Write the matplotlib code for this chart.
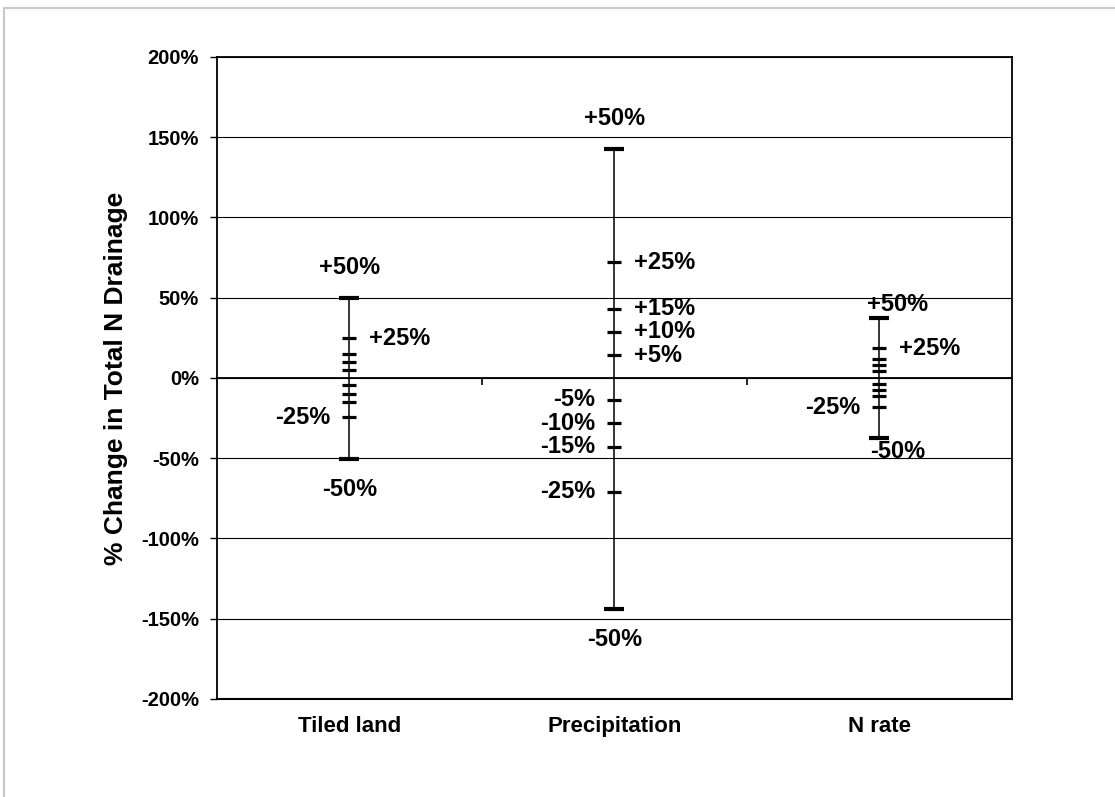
import matplotlib
matplotlib.use("Agg")
import matplotlib.pyplot as plt
from matplotlib.patches import Rectangle
from matplotlib.transforms import ScaledTranslation

plt.rcParams['font.family'] = ['Liberation Sans', 'DejaVu Sans']
plt.rcParams['font.weight'] = 'bold'

# factors on the x axis
categories = ["Tiled land", "Precipitation", "N rate"]

# change applied to each input (%)
input_changes = [-50, -25, -15, -10, -5, 5, 10, 15, 25, 50]

# resulting change in total N drainage (%)
tiled_land = [-50.5, -24.5, -14.8, -9.8, -4.6, 5.2, 10.2, 15.2, 24.7, 50.0]
precipitation = [-143.7, -70.8, -42.8, -28.2, -13.7, 14.1, 28.8, 43.0, 72.1, 142.7]
n_rate = [-37.2, -18.3, -11.0, -7.5, -3.7, 4.5, 8.1, 11.7, 18.5, 37.2]
series = [tiled_land, precipitation, n_rate]

# which input changes get a text label, per factor
labelled = [
    [-50, -25, 25, 50],
    [-50, -25, -15, -10, -5, 5, 10, 15, 25, 50],
    [-50, -25, 25, 50],
]

y_ticks = [-200, -150, -100, -50, 0, 50, 100, 150, 200]

fig = plt.figure(figsize=(11.15, 7.97), dpi=100)
ax = fig.add_axes([0.1946, 0.1230, 0.7130, 0.8055])

# light grey chart frame
fig.patches.append(Rectangle((4 / 1115, -0.1), 1.2, 1 - 8 / 797 + 0.1,
                             transform=fig.transFigure, fill=False,
                             edgecolor='#c8c8c8', linewidth=1.5))

for y in y_ticks:
    ax.axhline(y, color='black', linewidth=0.8, zorder=1)

for i, vals in enumerate(series):
    x = i + 1
    ax.plot([x, x], [min(vals), max(vals)], color='black', linewidth=1.1, zorder=2)
    for chg, v in zip(input_changes, vals):
        big = abs(chg) == 50
        ax.plot([x], [v], marker='_', color='black',
                markersize=14.5 if big else 10.5,
                markeredgewidth=3.0 if big else 2.3, zorder=3)

        if chg not in labelled[i]:
            continue
        txt = ("+%d%%" % chg) if chg > 0 else ("%d%%" % chg)
        if i == 2 and big:
            # N rate ends: labels sit tight on the markers
            off = (13, 10 if chg > 0 else -10)
            ha = 'center'
        elif big:
            off = (0, 22 if chg > 0 else -22)
            ha = 'center'
        elif chg > 0:
            off = (14, 0)
            ha = 'left'
        else:
            off = (-14, 0)
            ha = 'right'
        ax.annotate(txt, (x, v), xytext=off, textcoords='offset points',
                    ha=ha, va='center', fontsize=17, fontweight='bold')

ax.set_xlim(0.5, 3.5)
ax.set_ylim(-200, 200)
ax.set_yticks(y_ticks)
ax.set_yticklabels(["%d%%" % t for t in y_ticks], fontsize=14.5, fontweight='bold')
ax.tick_params(axis='y', direction='out', length=5, width=1, pad=8)

# x axis crosses at zero, ticks between categories
ax.set_xticks([1.5, 2.5])
ax.set_xticklabels([])
ax.spines['bottom'].set_position(('data', 0))
ax.tick_params(axis='x', direction='out', length=5, width=1.2)
ax.plot([0.5, 3.5], [-200, -200], color='black', linewidth=1.5, clip_on=False, zorder=4)

for s in ax.spines.values():
    s.set_linewidth(1.3)

# category labels below the plot area
below = ax.transData + ScaledTranslation(0, -12 / 72, fig.dpi_scale_trans)
for i, c in enumerate(categories):
    ax.text(i + 1, -200, c, transform=below, ha='center', va='top',
            fontsize=16, fontweight='bold')

ax.set_ylabel("% Change in Total N Drainage", fontsize=19, fontweight='bold', labelpad=9)

fig.savefig("out.png", dpi=100)
